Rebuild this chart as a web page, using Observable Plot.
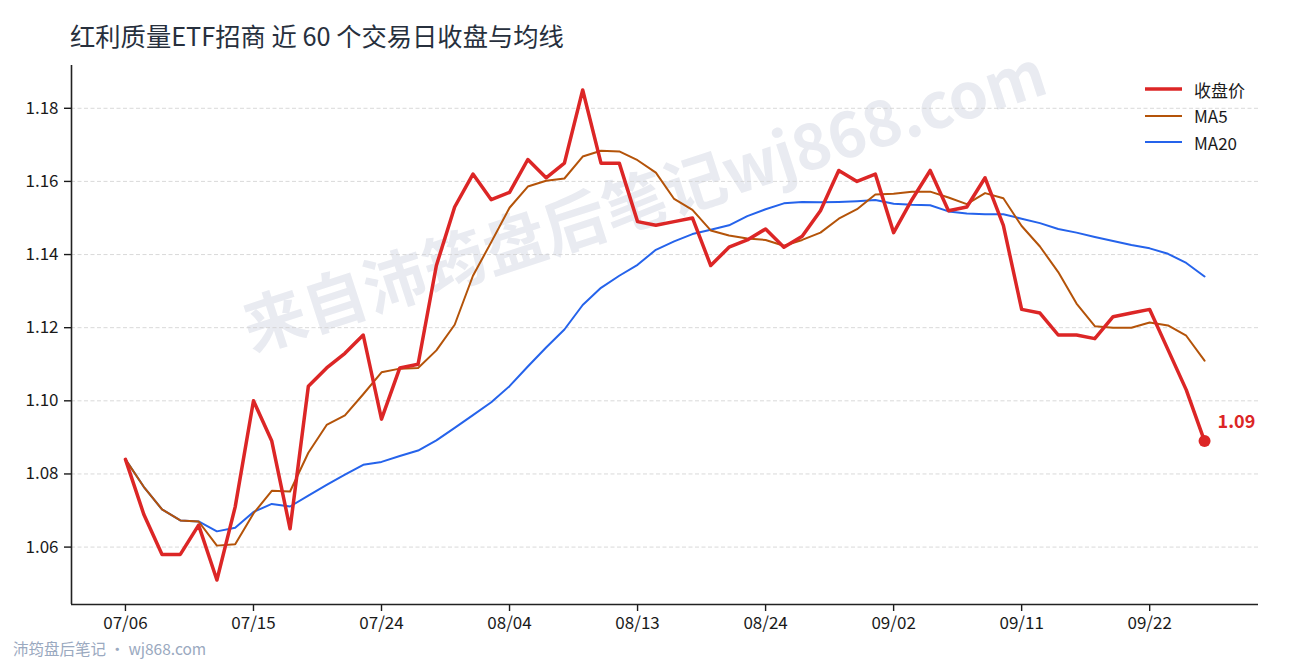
<!DOCTYPE html>
<html>
<head>
<meta charset="utf-8">
<script src="https://cdn.jsdelivr.net/npm/d3@7"></script>
<script src="https://cdn.jsdelivr.net/npm/@observablehq/plot@0.6"></script>
<style>
  html, body { margin: 0; padding: 0; background: #fff; }
  #wrap { position: relative; width: 1290px; height: 660px; font-family: "Noto Sans CJK SC", "Noto Sans", sans-serif; }
  #title { position: absolute; left: 70px; top: 21px; font-size: 25.3px; line-height: 28px; color: #27303d; white-space: nowrap; }
  #footer { position: absolute; left: 13px; top: 638px; font-size: 15.5px; line-height: 20px; color: #9aa9c0; white-space: nowrap; }
  #legend { position: absolute; left: 1145px; top: 76px; }
  .row { display: flex; align-items: center; height: 26.5px; font-size: 17px; color: #1a1a1a; }
  .row svg { margin-right: 12px; }
</style>
</head>
<body>
<div id="wrap">
  <div id="chart"></div>
  <div id="title"></div>
  <div id="legend"></div>
  <div id="footer"></div>
</div>
<script>
const titleText = "红利质量ETF招商 近 60 个交易日收盘与均线";
const footerText = "沛筠盘后笔记 · wj868.com";
const watermarkText = "来自沛筠盘后笔记wj868.com";

const dates = ["07/06","07/07","07/08","07/09","07/10","07/13","07/14","07/15","07/16","07/17",
  "07/20","07/21","07/22","07/23","07/24","07/27","07/28","07/29","07/30","07/31",
  "08/03","08/04","08/05","08/06","08/07","08/10","08/11","08/12","08/13","08/14",
  "08/17","08/18","08/19","08/20","08/21","08/24","08/25","08/26","08/27","08/28",
  "08/31","09/01","09/02","09/03","09/04","09/07","09/08","09/09","09/10","09/11",
  "09/14","09/15","09/16","09/17","09/18","09/21","09/22","09/23","09/24","09/25"];

const close = [1.084,1.069,1.058,1.058,1.066,1.051,1.071,1.100,1.089,1.065,
  1.104,1.109,1.113,1.118,1.095,1.109,1.110,1.137,1.153,1.162,
  1.155,1.157,1.166,1.161,1.165,1.185,1.165,1.165,1.149,1.148,
  1.149,1.150,1.137,1.142,1.144,1.147,1.142,1.145,1.152,1.163,
  1.160,1.162,1.146,1.155,1.163,1.152,1.153,1.161,1.148,1.125,
  1.124,1.118,1.118,1.117,1.123,1.124,1.125,1.114,1.103,1.089];

const ma5 = [1.0840,1.0765,1.0703,1.0673,1.0670,1.0604,1.0608,1.0692,1.0754,1.0752,
  1.0858,1.0934,1.0960,1.1018,1.1078,1.1088,1.1090,1.1138,1.1208,1.1342,
  1.1434,1.1528,1.1586,1.1602,1.1608,1.1668,1.1684,1.1682,1.1658,1.1624,
  1.1552,1.1522,1.1466,1.1452,1.1444,1.1440,1.1424,1.1440,1.1460,1.1498,
  1.1524,1.1564,1.1566,1.1572,1.1572,1.1556,1.1538,1.1568,1.1554,1.1478,
  1.1422,1.1352,1.1266,1.1204,1.1200,1.1200,1.1214,1.1206,1.1178,1.1110];

const ma20 = [1.0840,1.0765,1.0703,1.0673,1.0670,1.0643,1.0653,1.0696,1.0718,1.0711,
  1.0741,1.0770,1.0798,1.0825,1.0833,1.0849,1.0864,1.0892,1.0926,1.0961,
  1.0996,1.1040,1.1094,1.1146,1.1195,1.1262,1.1309,1.1342,1.1372,1.1413,
  1.1436,1.1456,1.1468,1.1480,1.1505,1.1524,1.1540,1.1544,1.1543,1.1544,
  1.1546,1.1549,1.1539,1.1536,1.1535,1.1518,1.1512,1.1510,1.1510,1.1498,
  1.1486,1.1470,1.1460,1.1448,1.1437,1.1426,1.1417,1.1402,1.1377,1.1340];

const seriesNames = ["收盘价", "MA5", "MA20"];
const seriesColors = ["#dc2626", "#b45309", "#2563eb"];
const seriesWidths = [3.5, 2, 2];

const yTicks = [1.06, 1.08, 1.10, 1.12, 1.14, 1.16, 1.18];
const xTickIndex = [0, 7, 14, 21, 28, 35, 42, 49, 56];

const rows = dates.map((d, i) => ({i, date: d, close: close[i], ma5: ma5[i], ma20: ma20[i]}));
const last = rows[rows.length - 1];

const xDomain = [-2.95, 61.95];
const yDomain = [1.0443, 1.1917];

const chart = Plot.plot({
  width: 1290,
  height: 660,
  marginLeft: 71,
  marginRight: 32,
  marginTop: 65,
  marginBottom: 56,
  style: {fontFamily: "'Noto Sans CJK SC', 'Noto Sans', sans-serif", background: "#fff", color: "#1a1a1a", overflow: "visible"},
  x: {domain: xDomain},
  y: {domain: yDomain},
  marks: [
    Plot.text([watermarkText], {
      frameAnchor: "middle", dx: -20, dy: -132, rotate: -18,
      text: d => d, fontSize: 63, fontWeight: "bold", fill: "#e9ebf1",
      textAnchor: "middle", lineAnchor: "middle"
    }),
    Plot.gridY(yTicks, {stroke: "#cfcfcf", strokeOpacity: 1, strokeDasharray: "4,2.5", strokeWidth: 0.8}),
    Plot.axisY(yTicks, {tickSize: 7, tickPadding: 6, fontSize: 17, strokeWidth: 1.4, tickFormat: d => d.toFixed(2), label: null}),
    Plot.axisX(xTickIndex, {tickSize: 7, tickPadding: 5, fontSize: 17, strokeWidth: 1.4, tickFormat: i => dates[i], label: null}),
    Plot.ruleX([xDomain[0]], {stroke: "#222", strokeWidth: 1.6}),
    Plot.ruleY([yDomain[0]], {stroke: "#222", strokeWidth: 1.6}),
    Plot.lineY(rows, {x: "i", y: "ma20", stroke: seriesColors[2], strokeWidth: seriesWidths[2], strokeLinejoin: "round"}),
    Plot.lineY(rows, {x: "i", y: "ma5", stroke: seriesColors[1], strokeWidth: seriesWidths[1], strokeLinejoin: "round"}),
    Plot.lineY(rows, {x: "i", y: "close", stroke: seriesColors[0], strokeWidth: seriesWidths[0], strokeLinejoin: "round"}),
    Plot.dot([last], {x: "i", y: "close", r: 6, fill: seriesColors[0], stroke: "none"}),
    Plot.text([last], {x: "i", y: "close", text: d => d.close.toFixed(2), dx: 13, dy: -19,
      textAnchor: "start", fontSize: 18, fontWeight: "bold", fill: seriesColors[0]})
  ]
});
document.getElementById("chart").appendChild(chart);

document.getElementById("title").textContent = titleText;
document.getElementById("footer").textContent = footerText;

const legend = document.getElementById("legend");
seriesNames.forEach((name, k) => {
  const row = document.createElement("div");
  row.className = "row";
  row.innerHTML = `<svg width="37" height="8"><line x1="0" x2="37" y1="4" y2="4" stroke="${seriesColors[k]}" stroke-width="${seriesWidths[k]}"/></svg><span>${name}</span>`;
  legend.appendChild(row);
});
</script>
</body>
</html>
